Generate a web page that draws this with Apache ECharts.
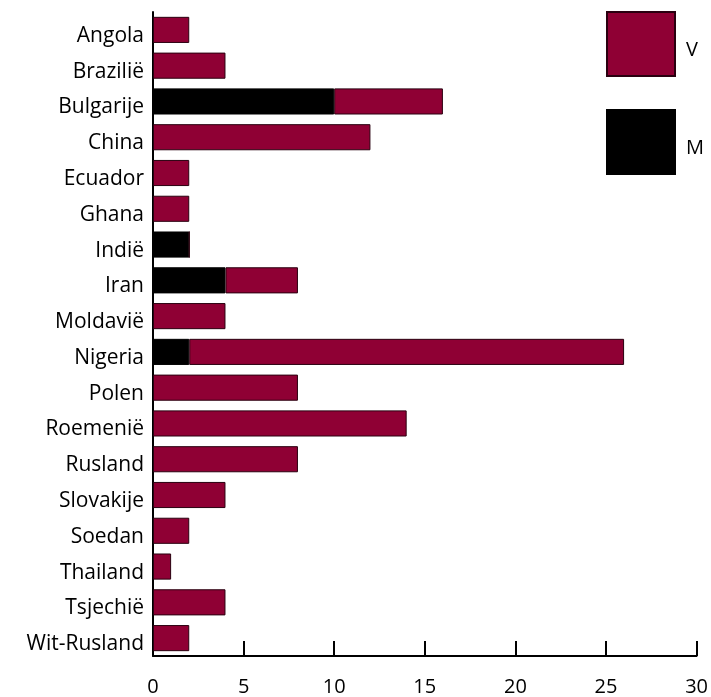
<!DOCTYPE html>
<html><head><meta charset="utf-8">
<script src="https://cdn.jsdelivr.net/npm/echarts@6/dist/echarts.min.js"></script>
<style>html,body{margin:0;padding:0;background:#fff}#c{width:711px;height:697px}</style>
</head><body><div id="c"></div>
<script>
const categories = ['Angola','Brazilië','Bulgarije','China','Ecuador','Ghana','Indië','Iran','Moldavië','Nigeria','Polen','Roemenië','Rusland','Slovakije','Soedan','Thailand','Tsjechië','Wit-Rusland'];
const valuesM = [0,0,10,0,0,0,2,4,0,2,0,0,0,0,0,0,0,0];
const valuesV = [2,4,6,12,2,2,0,4,4,24,8,14,8,4,2,1,4,2];
const xTicks = [0,5,10,15,20,25,30];

const FONT = 'Open Sans';
const chart = echarts.init(document.getElementById('c'), null, {renderer:'canvas'});
chart.setOption({
  animation:false,
  textStyle:{fontFamily:FONT},
  grid:{left:153,right:14,top:12,bottom:40,containLabel:false},
  legend:{
    data:['V','M'], orient:'vertical', left:606, top:11, icon:'rect',
    itemWidth:68, itemHeight:64, itemGap:32, padding:0,
    formatter:function(n){return '{t|'+n+'}';},
    textStyle:{color:'#000',fontFamily:FONT,
      rich:{t:{fontSize:20,color:'#000',fontFamily:FONT,padding:[12,0,0,6]}}},
    selectedMode:false
  },
  xAxis:{
    type:'value', min:xTicks[0], max:xTicks[xTicks.length-1], interval:5,
    axisLine:{show:true,lineStyle:{color:'#000',width:2}},
    axisTick:{show:true,inside:true,length:15,lineStyle:{color:'#000',width:2}},
    axisLabel:{fontSize:20,color:'#000',margin:21,fontFamily:FONT},
    splitLine:{show:false}
  },
  yAxis:{
    type:'category', data:categories, inverse:true,
    axisLine:{show:true,lineStyle:{color:'#000',width:2}},
    axisTick:{show:false},
    axisLabel:{color:'#000',margin:9,fontFamily:FONT,
      formatter:function(v){return '{t|'+v+'}';},
      rich:{t:{fontSize:21,color:'#000',fontFamily:FONT,padding:[12,0,0,0]}}}
  },
  series:[
    {name:'M',type:'bar',stack:'a',data:valuesM,barCategoryGap:'27%',
     itemStyle:{color:'#000',borderColor:'#000',borderWidth:1}},
    {name:'V',type:'bar',stack:'a',data:valuesV,barCategoryGap:'27%',
     itemStyle:{color:'#8F0034',borderColor:'#2a0010',borderWidth:1}}
  ]
});
</script></body></html>
